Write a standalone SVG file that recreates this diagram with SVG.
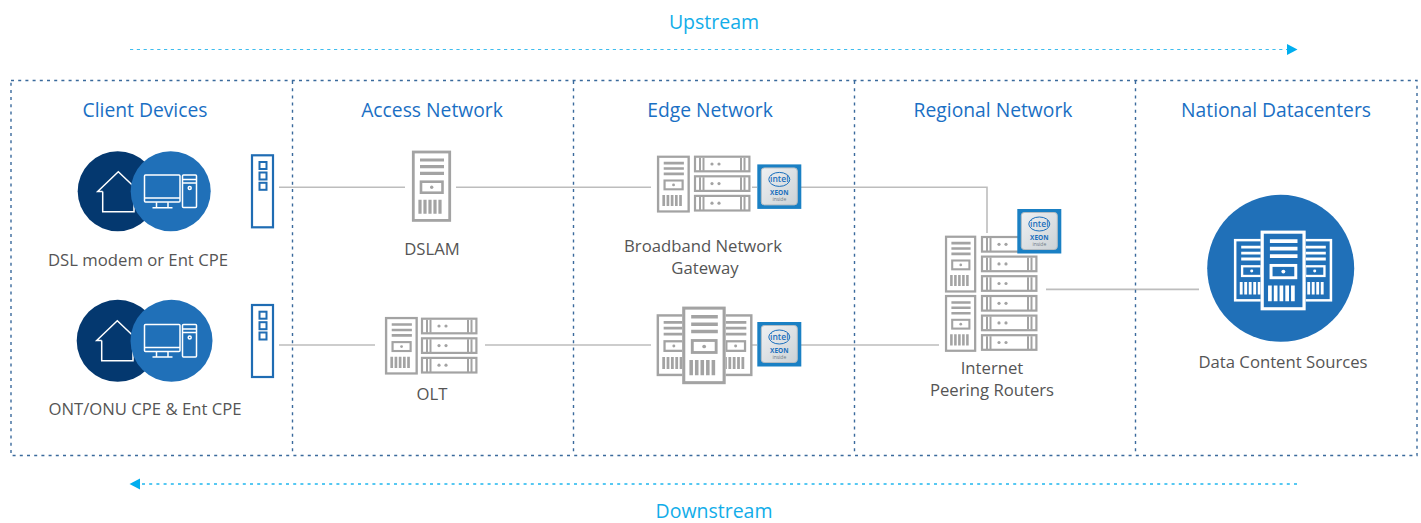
<svg xmlns="http://www.w3.org/2000/svg" xmlns:xlink="http://www.w3.org/1999/xlink" width="1421" height="523" viewBox="0 0 1421 523">
<style>
text{font-family:"Open Sans","Noto Sans","Liberation Sans",sans-serif}
.hd{font-size:19.3px;fill:#1a6fc4;text-anchor:middle}
.lb{font-size:16.7px;fill:#555;text-anchor:middle}
.st{font-size:19.5px;fill:#12ade9;text-anchor:middle}
.frame{fill:none;stroke:#3a6a9c;stroke-width:1.4;stroke-dasharray:3 4.2}
.wire{fill:none;stroke:#bdbdbd;stroke-width:1.6}
.up{fill:none;stroke:#3fbdee;stroke-width:1.1;stroke-dasharray:3.2 3.6}
.down{fill:none;stroke:#1fb6ee;stroke-width:1.4;stroke-dasharray:3 4.2}
.ic{fill:none;stroke:#fff;stroke-width:1.5}
.cpe{fill:#fff;stroke:#1f6cb3;stroke-width:2.2}
.sq{fill:none;stroke:#1f6cb3;stroke-width:2}
.g{color:#a3a3a3}
.w{color:#fff}
</style>
<defs>
<g id="tower">
<rect x="1.3" y="1.3" width="36.4" height="68.4" fill="none" stroke="currentColor" stroke-width="2.8"/>
<path d="M8 9.3H32M8 16H32M8 22.7H32" fill="none" stroke="currentColor" stroke-width="3.2"/>
<rect x="9" y="31" width="21.5" height="11" fill="none" stroke="currentColor" stroke-width="2.6"/>
<circle cx="19.7" cy="36.5" r="1.7" fill="currentColor"/>
<path d="M8 49V63M13 49V63M18 49V63M23 49V63M28 49V63" fill="none" stroke="currentColor" stroke-width="3.2"/>
</g>
<g id="rackunit">
<rect x="1" y="1" width="54.4" height="14.6" fill="#fff" stroke="#a3a3a3" stroke-width="2.2"/>
<path d="M6 2V15M9.5 2V15M47 2V15M50.5 2V15" fill="none" stroke="#a3a3a3" stroke-width="2"/>
<circle cx="18" cy="8.3" r="1.6" fill="#a3a3a3"/>
<circle cx="25" cy="8.3" r="1.6" fill="#a3a3a3"/>
</g>
<g id="rack3">
<use href="#rackunit"/>
<use href="#rackunit" y="19.6"/>
<use href="#rackunit" y="39.2"/>
</g>
<linearGradient id="chip" x1="0" y1="0" x2="1" y2="1">
<stop offset="0" stop-color="#eef0f2"/>
<stop offset="1" stop-color="#ccd2d6"/>
</linearGradient>
<g id="xeon">
<rect width="44" height="44.5" fill="#1a80c4"/>
<rect x="4" y="3.5" width="36" height="37" rx="3" fill="url(#chip)" stroke="#b4bcc2" stroke-width="1"/>
<ellipse cx="22" cy="15" rx="10.5" ry="7" fill="none" stroke="#1a6fbd" stroke-width="1"/>
<text x="22" y="18" font-size="8.5" font-weight="600" fill="#1a6fbd" text-anchor="middle">intel</text>
<text x="22" y="31" font-size="6.5" font-weight="700" fill="#1a6fbd" text-anchor="middle">XEON</text>
<text x="22" y="37" font-size="5" fill="#6d7b85" text-anchor="middle">inside</text>
</g>
<g id="house">
<path class="ic" d="M102.7 191.5H97.7L118.3 171.7L138 190.5M102.7 191.5V211.7H134V188"/>
</g>
<g id="pc">
<rect class="ic" x="144.5" y="175" width="35.5" height="27" rx="1"/>
<path class="ic" d="M144.5 198H180M156.5 202.3V207.5M168 202.3V207.5M152.5 207.7H172.5"/>
<rect class="ic" x="182.5" y="175" width="14" height="32.5" rx="1"/>
<path class="ic" d="M182.5 179.5H196.5M182.5 183H196.5"/>
<circle class="ic" cx="189.7" cy="188" r="1.5"/>
</g>
</defs>

<g id="connectors">
<path class="wire" d="M279 187.3H405M456 187.3H651M752 187.3H757M801 187.3H987V233"/>
<path class="wire" d="M279 345H375M485 345H651M752 345H757M801 345H939"/>
<path class="wire" d="M1046 289.4H1199"/>
<path class="up" d="M130 49.5H1287"/>
<path d="M1287 44L1297.5 49.5L1287 55Z" fill="#00aeef"/>
<path class="down" d="M1297 484H140"/>
<path d="M140 478.5L129.5 484L140 489.5Z" fill="#00aeef"/>
</g>

<g id="frame">
<rect class="frame" x="11" y="80.5" width="1406" height="375"/>
<path class="frame" d="M292.5 81V455M573.5 81V455M854.5 81V455M1135.5 81V455"/>
</g>

<g id="flow-labels">
<text class="st" x="714" y="29">Upstream</text>
<text class="st" x="714" y="518">Downstream</text>
</g>

<g id="col-client">
<text class="hd" x="145" y="117">Client Devices</text>
<g id="client-dsl">
<circle cx="117.7" cy="191.3" r="40" fill="#04386f"/>
<use href="#house"/>
<circle cx="170.7" cy="191.3" r="40" fill="#2070b8"/>
<use href="#pc"/>
<rect class="cpe" x="252" y="155.3" width="21" height="72"/>
<rect class="sq" x="259.5" y="162" width="7" height="7"/>
<rect class="sq" x="259.5" y="172.5" width="7" height="7"/>
<rect class="sq" x="259.5" y="182.8" width="7" height="7"/>
<text class="lb" x="138" y="266">DSL modem or Ent CPE</text>
</g>
<g id="client-ont">
<circle cx="117.7" cy="340.8" r="41" fill="#04386f"/>
<use href="#house" transform="translate(-1,149)"/>
<circle cx="171.5" cy="340.8" r="41" fill="#2070b8"/>
<use href="#pc" transform="translate(0,149.4)"/>
<rect class="cpe" x="252" y="305" width="21" height="72"/>
<rect class="sq" x="259.5" y="311.7" width="7" height="7"/>
<rect class="sq" x="259.5" y="322.2" width="7" height="7"/>
<rect class="sq" x="259.5" y="332.5" width="7" height="7"/>
<text class="lb" x="145" y="414.7">ONT/ONU CPE &amp; Ent CPE</text>
</g>
</g>

<g id="col-access">
<text class="hd" x="432" y="117">Access Network</text>
<g id="dslam" class="g">
<use href="#tower" transform="translate(412,150.7)"/>
<text class="lb" x="432" y="255">DSLAM</text>
</g>
<g id="olt" class="g">
<use href="#tower" transform="translate(385,317) scale(.84,.81)"/>
<use href="#rack3" x="421" y="317.7"/>
<text class="lb" x="432" y="400">OLT</text>
</g>
</g>

<g id="col-edge">
<text class="hd" x="710" y="117">Edge Network</text>
<g id="bng" class="g">
<use href="#tower" transform="translate(657,155.7) scale(.84,.8)"/>
<use href="#rack3" x="694" y="155.7"/>
<use href="#xeon" x="757.3" y="164.4"/>
<text class="lb" x="703" y="252">Broadband Network</text>
<text class="lb" x="705" y="274">Gateway</text>
</g>
<g id="bng-2" class="g">
<use href="#tower" transform="translate(656.7,314.3) scale(.87,.87)"/>
<use href="#tower" transform="translate(718.5,314.3) scale(.87,.87)"/>
<rect x="682.3" y="306.7" width="43.4" height="77.3" fill="#fff"/>
<use href="#tower" transform="translate(682.3,306.7) scale(1.11,1.09)"/>
<use href="#xeon" x="757.3" y="322"/>
</g>
</g>

<g id="col-regional">
<text class="hd" x="993" y="117">Regional Network</text>
<g id="peering" class="g">
<use href="#tower" transform="translate(945,235.7) scale(.8,.8)"/>
<use href="#tower" transform="translate(945,295) scale(.8,.8)"/>
<use href="#rack3" x="981" y="236"/>
<use href="#rack3" x="981" y="295"/>
<use href="#xeon" x="1017.3" y="209"/>
<text class="lb" x="992" y="374">Internet</text>
<text class="lb" x="992" y="396">Peering Routers</text>
</g>
</g>

<g id="col-national">
<text class="hd" x="1276" y="117">National Datacenters</text>
<g id="data-sources" class="w">
<circle cx="1280.7" cy="268.3" r="73.5" fill="#2070b8"/>
<use href="#tower" transform="translate(1234,239) scale(.9,.88)"/>
<use href="#tower" transform="translate(1297,239) scale(.9,.88)"/>
<rect x="1260.7" y="230.7" width="45" height="79.3" fill="#2070b8"/>
<use href="#tower" transform="translate(1260.7,230.7) scale(1.15,1.12)"/>
<text class="lb" x="1283" y="368">Data Content Sources</text>
</g>
</g>
</svg>
